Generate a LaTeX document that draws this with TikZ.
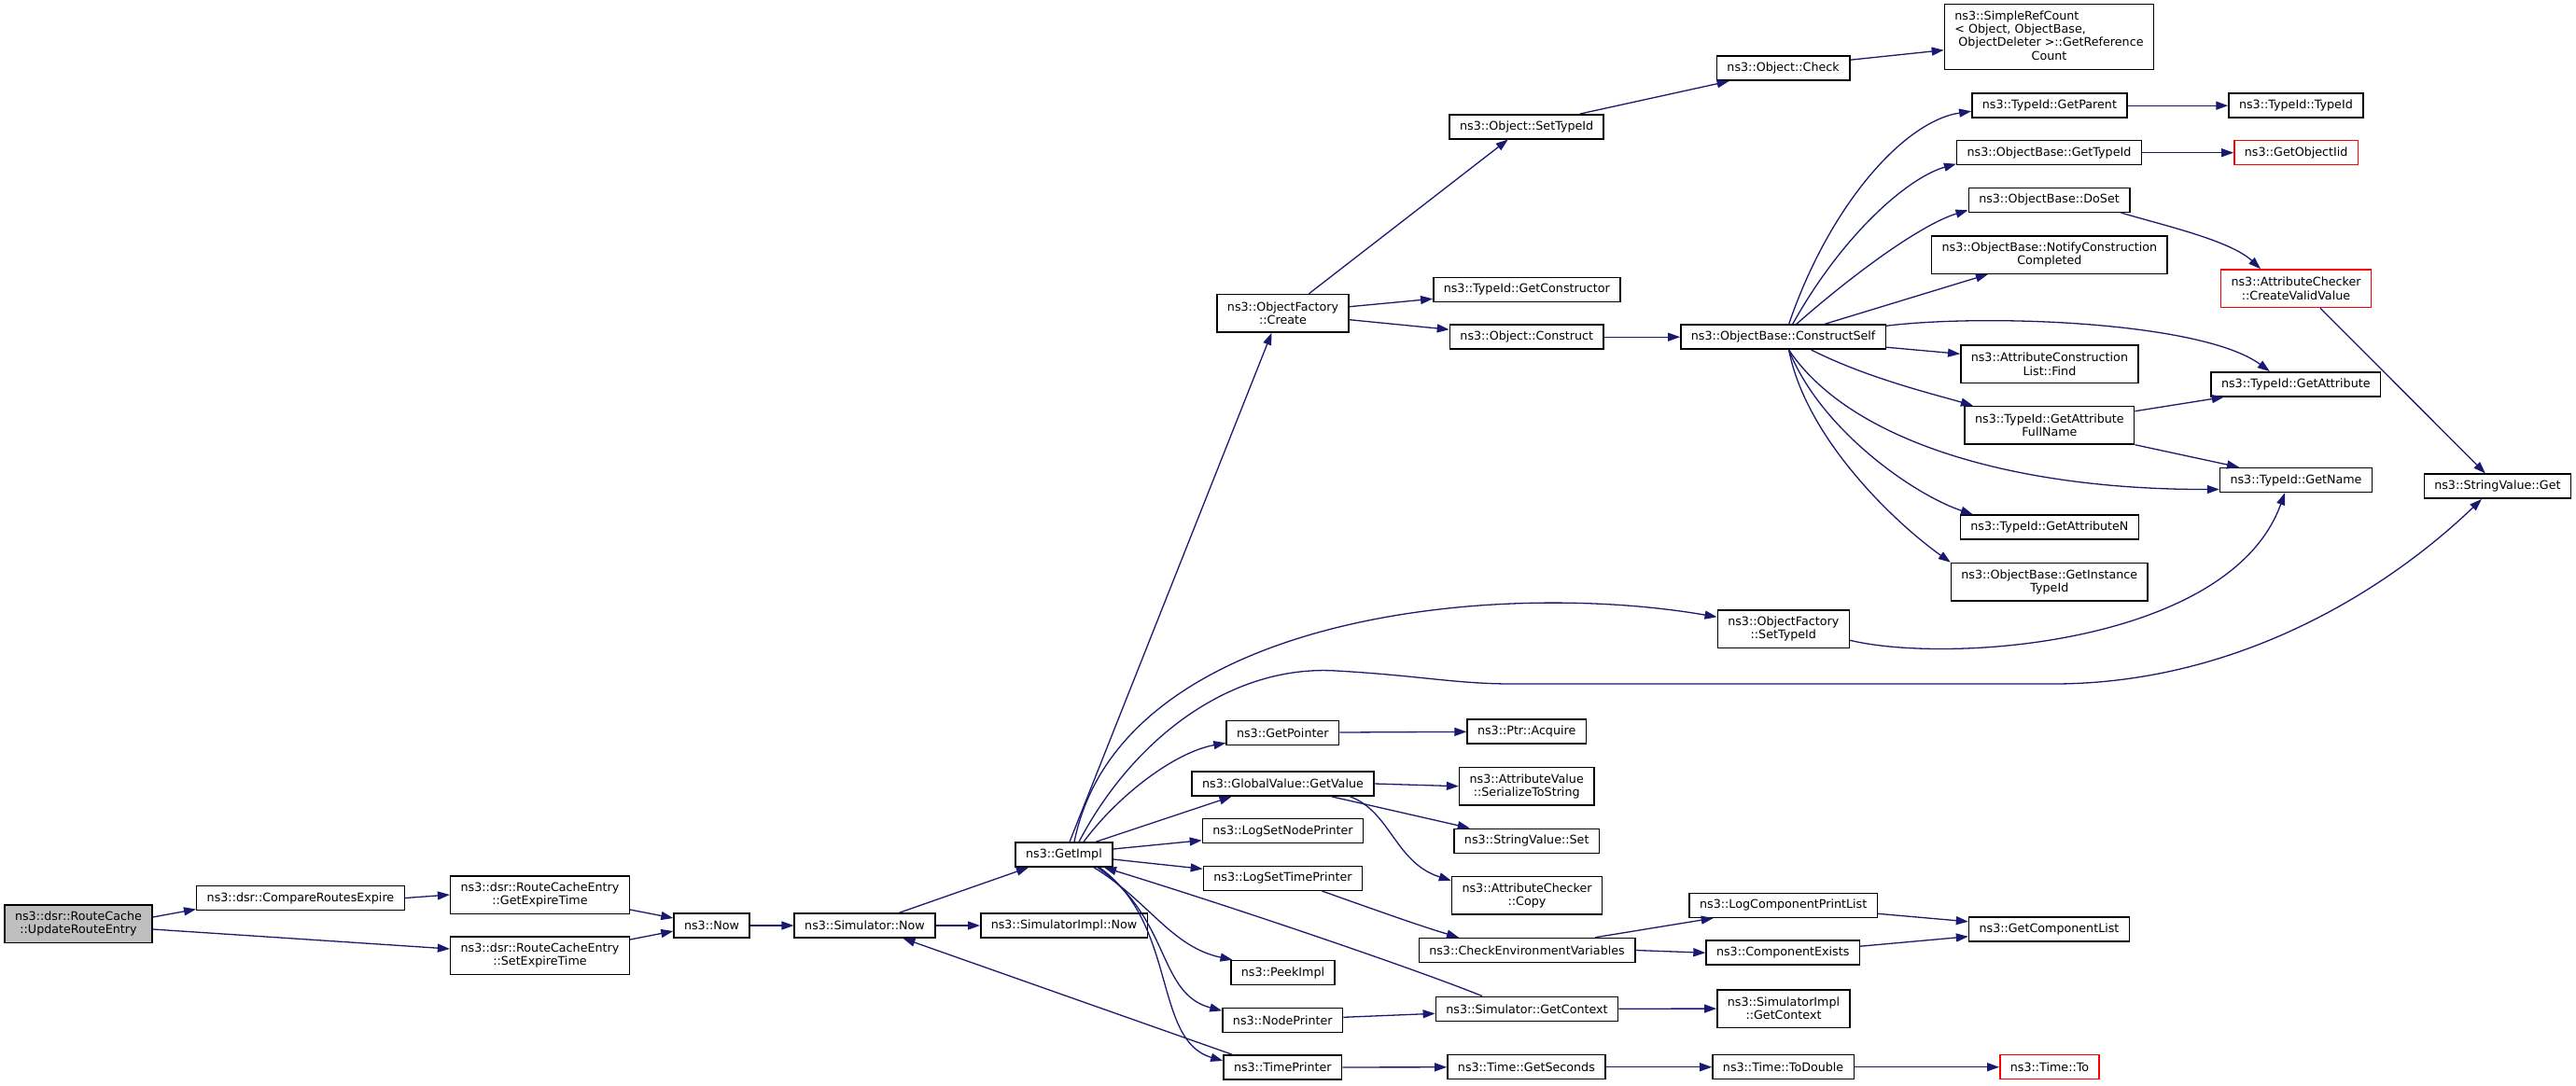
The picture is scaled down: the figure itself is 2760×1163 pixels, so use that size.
\documentclass[tikz,border=0pt]{standalone}
\usepackage{fontspec}
\setmainfont{DejaVu Sans}
\usepackage{xcolor}
\usepackage{tikz}
\usetikzlibrary{arrows.meta}
\definecolor{callblue}{HTML}{191970}
\definecolor{rootgray}{HTML}{BFBFBF}
\newcommand{\fnfont}{\fontsize{12.7}{14.3}\selectfont}
\tikzset{
 fnbox/.style={draw=black, fill=white, line width=1.5pt, font=\fnfont, align=center, inner xsep=11pt, inner ysep=5pt, minimum height=26pt},
 fnboxtwo/.style={fnbox, minimum height=40.5pt},
 undoc/.style={draw=red},
 rootbox/.style={fill=rootgray},
 call/.style={draw=callblue, line width=1.3pt, -{Triangle[length=13pt,width=9pt]}},
}

\begin{document}
\begin{tikzpicture}[x=1pt,y=-1pt]
\useasboundingbox (0,0) rectangle (2760,1163);
\node[fnboxtwo,rootbox] (updRoute) at (84,990) {ns3::dsr::RouteCache\\::UpdateRouteEntry};
\node[fnbox] (cmpExpire) at (322,962.5) {ns3::dsr::CompareRoutesExpire};
\node[fnboxtwo] (getExpire) at (578.5,959) {ns3::dsr::RouteCacheEntry\\::GetExpireTime};
\node[fnboxtwo] (setExpire) at (578.5,1024) {ns3::dsr::RouteCacheEntry\\::SetExpireTime};
\node[fnbox] (now) at (762.5,992) {ns3::Now};
\node[fnbox] (simNow) at (926.5,992) {ns3::Simulator::Now};
\node[fnbox] (implNow) at (1140,992) {ns3::SimulatorImpl::Now};
\node[fnbox] (getImpl) at (1140,916) {ns3::GetImpl};
\node[fnboxtwo] (ofCreate) at (1374.5,335.7) {ns3::ObjectFactory\\::Create};
\node[fnbox] (getPointer) at (1374.3,785.3) {ns3::GetPointer};
\node[fnbox] (gvGetValue) at (1374.5,840) {ns3::GlobalValue::GetValue};
\node[fnbox] (logNode) at (1374.5,890.7) {ns3::LogSetNodePrinter};
\node[fnbox] (logTime) at (1374.5,941.3) {ns3::LogSetTimePrinter};
\node[fnbox] (peekImpl) at (1374.5,1042.5) {ns3::PeekImpl};
\node[fnbox] (nodePrinter) at (1374.3,1093.3) {ns3::NodePrinter};
\node[fnbox] (timePrinter) at (1374.3,1144) {ns3::TimePrinter};
\node[fnbox] (objSetTid) at (1635.7,135.8) {ns3::Object::SetTypeId};
\node[fnbox] (getCtor) at (1635.8,310.3) {ns3::TypeId::GetConstructor};
\node[fnbox] (objConstruct) at (1635.8,361.2) {ns3::Object::Construct};
\node[fnbox] (ptrAcquire) at (1635.7,784) {ns3::Ptr::Acquire};
\node[fnboxtwo] (serialize) at (1635.7,842.7) {ns3::AttributeValue\\::SerializeToString};
\node[fnbox] (svSet) at (1635.7,901.3) {ns3::StringValue::Set};
\node[fnboxtwo] (checkerCopy) at (1636,959.7) {ns3::AttributeChecker\\::Copy};
\node[fnbox] (checkEnv) at (1636,1018.5) {ns3::CheckEnvironmentVariables};
\node[fnbox] (simGetCtx) at (1636,1081.3) {ns3::Simulator::GetContext};
\node[fnbox] (getSeconds) at (1635.4,1143.7) {ns3::Time::GetSeconds};
\node[fnbox] (objCheck) at (1910.6,73.2) {ns3::Object::Check};
\node[fnbox] (constructSelf) at (1910.6,361.2) {ns3::ObjectBase::ConstructSelf};
\node[fnboxtwo] (ofSetTid) at (1910.8,674.3) {ns3::ObjectFactory\\::SetTypeId};
\node[fnbox] (logPrintList) at (1910.7,970.3) {ns3::LogComponentPrintList};
\node[fnbox] (compExists) at (1910.2,1021.2) {ns3::ComponentExists};
\node[fnboxtwo] (implGetCtx) at (1911,1081) {ns3::SimulatorImpl\\::GetContext};
\node[fnbox] (toDouble) at (1910.6,1143.7) {ns3::Time::ToDouble};
\node[fnbox, minimum height=70pt] (refCount) at (2195.5,39.7) {\begin{tabular}{@{}l@{}}ns3::SimpleRefCount\\< Object, ObjectBase,\\\ ObjectDeleter >::GetReference\\\multicolumn{1}{@{}c@{}}{Count}\end{tabular}};
\node[fnbox] (getParent) at (2195.9,113.2) {ns3::TypeId::GetParent};
\node[fnbox] (obGetTid) at (2195.5,163.7) {ns3::ObjectBase::GetTypeId};
\node[fnbox] (doSet) at (2195.5,214.3) {ns3::ObjectBase::DoSet};
\node[fnboxtwo] (notify) at (2195.9,273) {ns3::ObjectBase::NotifyConstruction\\Completed};
\node[fnboxtwo] (attrFind) at (2195.9,390.3) {ns3::AttributeConstruction\\List::Find};
\node[fnboxtwo] (fullName) at (2195.9,455.7) {ns3::TypeId::GetAttribute\\FullName};
\node[fnbox] (getAttrN) at (2195.9,565.2) {ns3::TypeId::GetAttributeN};
\node[fnboxtwo] (instTid) at (2195.8,623.7) {ns3::ObjectBase::GetInstance\\TypeId};
\node[fnbox] (getCompList) at (2195.5,995.8) {ns3::GetComponentList};
\node[fnbox,undoc] (timeTo) at (2196,1143.7) {ns3::Time::To};
\node[fnbox] (tidTid) at (2459.9,113.2) {ns3::TypeId::TypeId};
\node[fnbox,undoc] (getObjIid) at (2460.2,163.7) {ns3::GetObjectIid};
\node[fnboxtwo,undoc] (validValue) at (2460,309.2) {ns3::AttributeChecker\\::CreateValidValue};
\node[fnbox] (getAttr) at (2459.8,411.8) {ns3::TypeId::GetAttribute};
\node[fnbox] (getName) at (2460,514.5) {ns3::TypeId::GetName};
\node[fnbox] (svGet) at (2675.9,521.2) {ns3::StringValue::Get};

\draw[call] ([yshift=7pt]updRoute.east) -- ([yshift=-12pt]cmpExpire.west);
\draw[call] ([yshift=-6pt]updRoute.east) -- ([yshift=7pt]setExpire.west);
\draw[call] (cmpExpire.east) -- (getExpire.west);
\draw[call] ([yshift=-16pt]getExpire.east) -- ([yshift=8pt]now.west);
\draw[call] ([yshift=17pt]setExpire.east) -- ([yshift=-6pt]now.west);
\draw[call] (now) -- (simNow);
\draw[call] ([xshift=37pt]simNow.north) -- ([xshift=-38pt]getImpl.south);
\draw[call] (simNow) -- (implNow);
\draw[call] ([xshift=-54pt]timePrinter.north) -- ([xshift=41pt]simNow.south);
\draw[call] ([xshift=6pt]getImpl.north) -- ([xshift=-12pt]ofCreate.south);
\draw[call] ([xshift=11pt]getImpl.north) .. controls (1200,660) and (1600,620) .. ([yshift=13pt]ofSetTid.west);
\draw[call] ([xshift=16pt]getImpl.north) .. controls (1215,790) and (1320,712) .. (1432,719) .. controls (1520,724) and (1560,733) .. (1620,733) -- (2200,733) .. controls (2400,733) and (2560,630) .. ([xshift=-17pt]svGet.south);
\draw[call] ([xshift=21pt]getImpl.north) .. controls (1200,850) and (1260,806) .. ([yshift=-11pt]getPointer.west);
\draw[call] ([xshift=34pt]getImpl.north) -- ([xshift=-55pt]gvGetValue.south);
\draw[call] ([yshift=6pt]getImpl.east) -- ([yshift=-10pt]logNode.west);
\draw[call] ([yshift=-5pt]getImpl.east) -- ([yshift=10pt]logTime.west);
\draw[call] ([xshift=32pt]getImpl.south) .. controls (1230,965) and (1255,1015) .. ([xshift=-54pt]peekImpl.north);
\draw[call] ([xshift=36pt]getImpl.south) .. controls (1255,985) and (1240,1065) .. ([yshift=10pt]nodePrinter.west);
\draw[call] ([xshift=38pt]getImpl.south) .. controls (1262,990) and (1235,1115) .. ([yshift=7pt]timePrinter.west);
\draw[call] ([xshift=-48pt]simGetCtx.north) .. controls (1520,1040) and (1330,975) .. ([xshift=43pt]getImpl.south);
\draw[call] ([yshift=3pt]nodePrinter.east) -- ([yshift=-5pt]simGetCtx.west);
\draw[call] (timePrinter) -- (getSeconds);
\draw[call] ([xshift=42pt]logTime.south) .. controls (1470,974) and (1520,992) .. ([xshift=-73pt]checkEnv.north);
\draw[call] (gvGetValue.east) -- (serialize.west);
\draw[call] ([xshift=52pt]gvGetValue.south) -- ([xshift=-61pt]svSet.north);
\draw[call] ([xshift=72pt]gvGetValue.south) .. controls (1490,870) and (1495,925) .. ([yshift=16pt]checkerCopy.west);
\draw[call] (getPointer) -- (ptrAcquire);
\draw[call] ([xshift=73pt]checkEnv.north) -- ([xshift=-75pt]logPrintList.south);
\draw[call] (checkEnv.east) -- (compExists.west);
\draw[call] ([yshift=-9pt]logPrintList.east) -- ([yshift=8pt]getCompList.west);
\draw[call] ([yshift=7pt]compExists.east) -- ([yshift=-8pt]getCompList.west);
\draw[call] (simGetCtx) -- (implGetCtx);
\draw[call] (getSeconds) -- (toDouble);
\draw[call] (toDouble) -- (timeTo);
\draw[call] ([yshift=7pt]ofCreate.east) -- ([yshift=-10pt]getCtor.west);
\draw[call] ([yshift=-7pt]ofCreate.east) -- ([yshift=8pt]objConstruct.west);
\draw[call] ([xshift=28pt]ofCreate.north) -- ([xshift=-20pt]objSetTid.south);
\draw[call] ([xshift=57pt]objSetTid.north) -- ([xshift=-58pt]objCheck.south);
\draw[call] ([yshift=9pt]objCheck.east) -- ([yshift=-14pt]refCount.west);
\draw[call] (objConstruct) -- (constructSelf);
\draw[call] ([xshift=6pt]constructSelf.north) .. controls (1960,220) and (2040,130) .. ([yshift=-6pt]getParent.west);
\draw[call] ([xshift=10pt]constructSelf.north) .. controls (1975,250) and (2045,190) .. ([yshift=-12pt]obGetTid.west);
\draw[call] ([xshift=14pt]constructSelf.north) .. controls (1990,290) and (2060,240) .. ([yshift=-11pt]doSet.west);
\draw[call] ([xshift=44pt]constructSelf.north) -- ([xshift=-66pt]notify.south);
\draw[call] ([yshift=12pt]constructSelf.east) .. controls (2130,336) and (2360,345) .. ([xshift=-28pt]getAttr.north);
\draw[call] ([yshift=-11pt]constructSelf.east) -- ([yshift=11pt]attrFind.west);
\draw[call] ([xshift=30pt]constructSelf.south) .. controls (2000,405) and (2070,422) .. ([xshift=-82pt]fullName.north);
\draw[call] ([xshift=6pt]constructSelf.south) .. controls (1980,470) and (2150,525) .. ([yshift=-10pt]getName.west);
\draw[call] ([xshift=6pt]constructSelf.south) .. controls (1950,460) and (2050,530) .. ([xshift=-82pt]getAttrN.north);
\draw[call] ([xshift=6pt]constructSelf.south) .. controls (1935,470) and (2030,560) .. ([xshift=-106pt]instTid.north);
\draw[call] (getParent) -- (tidTid);
\draw[call] (obGetTid) -- (getObjIid);
\draw[call] ([xshift=77pt]doSet.south) .. controls (2320,242) and (2390,258) .. ([xshift=-38pt]validValue.north);
\draw[call] ([xshift=26pt]validValue.south) -- ([xshift=-13pt]svGet.north);
\draw[call] ([yshift=15pt]fullName.east) -- ([xshift=-77pt]getAttr.south);
\draw[call] (fullName.south east) -- ([xshift=-61pt]getName.north);
\draw[call] ([yshift=-12pt]ofSetTid.east) .. controls (2090,712) and (2390,690) .. ([xshift=-12pt]getName.south);
\end{tikzpicture}
\end{document}
